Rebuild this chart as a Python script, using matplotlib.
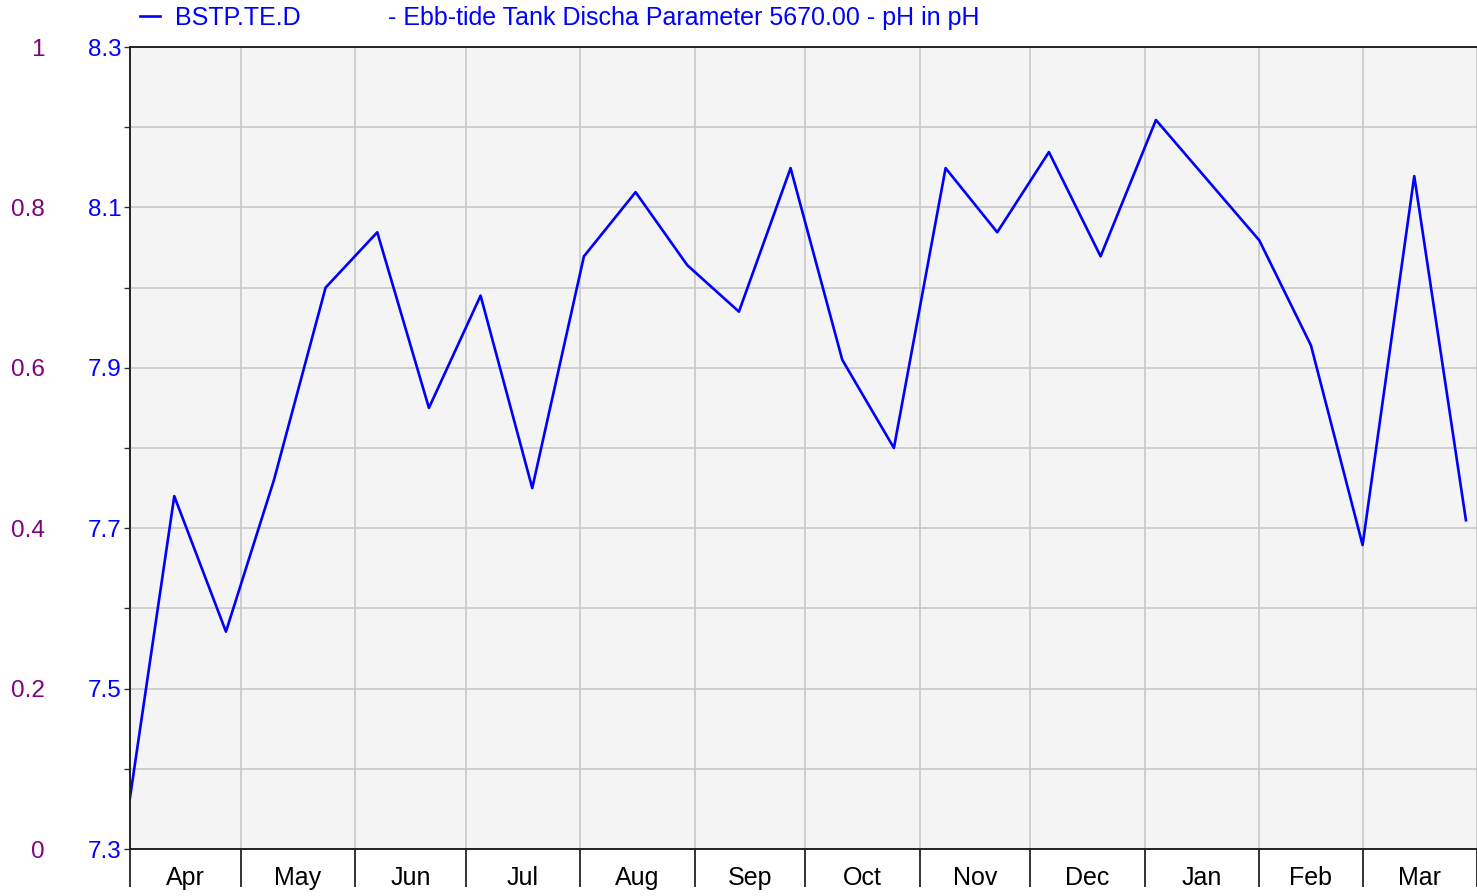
import matplotlib
matplotlib.use("Agg")
import matplotlib.pyplot as plt
import pandas as pd
import numpy as np

# Data
dates = ["2020-04-01", "2020-04-13", "2020-04-27", "2020-05-10", "2020-05-24",
         "2020-06-07", "2020-06-21", "2020-07-05", "2020-07-19", "2020-08-02",
         "2020-08-16", "2020-08-30", "2020-09-13", "2020-09-27", "2020-10-11",
         "2020-10-25", "2020-11-08", "2020-11-22", "2020-12-06", "2020-12-20",
         "2021-01-04", "2021-01-18", "2021-02-01", "2021-02-15", "2021-03-01",
         "2021-03-15", "2021-03-29"]
ph = [7.364, 7.740, 7.571, 7.760, 8.000, 8.069, 7.850, 7.990, 7.750, 8.039,
      8.119, 8.028, 7.970, 8.149, 7.910, 7.800, 8.149, 8.069, 8.169, 8.039,
      8.209, 8.134, 8.059, 7.928, 7.679, 8.139, 7.710]
month_labels = ["Apr", "May", "Jun", "Jul", "Aug", "Sep", "Oct", "Nov", "Dec",
                "Jan", "Feb", "Mar"]
series_name = "BSTP.TE.D"
title_text = "- Ebb-tide Tank Discha Parameter 5670.00 - pH in pH"

plt.rcParams['font.family'] = ['Liberation Sans', 'DejaVu Sans']

x = pd.to_datetime(dates)
month_starts = pd.date_range("2020-04-01", "2021-04-01", freq="MS")
mid_months = month_starts[:-1] + (month_starts[1:] - month_starts[:-1]) / 2

fig = plt.figure(figsize=(14.77, 8.96), dpi=100)
ax = fig.add_axes([130 / 1477, 47 / 896, 1347 / 1477, 802 / 896])
ax.set_facecolor("#f4f4f4")

ax.plot(x, ph, color="#0000ff", lw=1.9, label=series_name)

ax.set_xlim(month_starts[0], month_starts[-1])
ax.set_ylim(7.3, 8.3)

# x axis: long ticks at month boundaries, labels centred in each month
ax.set_xticks(month_starts)
ax.set_xticklabels([])
ax.set_xticks(mid_months, minor=True)
ax.set_xticklabels(month_labels, minor=True)
ax.tick_params(axis="x", which="major", length=27, width=1.4, color="#333333")
ax.tick_params(axis="x", which="minor", length=0, pad=12, labelsize=18)

# y axis (pH)
yt = np.round(np.arange(7.3, 8.31, 0.1), 1)
ax.set_yticks(yt)
ax.set_yticklabels([f"{v:.1f}" if i % 2 == 0 else "" for i, v in enumerate(yt)])
ax.tick_params(axis="y", length=4, width=1, color="#333333", pad=2,
               labelsize=17.5, labelcolor="#0000ff")

ax.grid(True, which="major", color="#c8c8c8", lw=1.2)
for s in ["left", "bottom", "top"]:
    ax.spines[s].set_linewidth(1.4)
    ax.spines[s].set_color("#222222")
ax.spines["right"].set_visible(False)

# second scale (0 - 1) on the far left
sec = ax.secondary_yaxis(-78 / 1347, functions=(lambda v: v - 7.3, lambda v: v + 7.3))
sec.set_yticks([0, 0.2, 0.4, 0.6, 0.8, 1])
sec.set_yticklabels(["0", "0.2", "0.4", "0.6", "0.8", "1"])
sec.tick_params(length=0, pad=5, labelsize=17.5, labelcolor="#800080")
sec.spines["left"].set_visible(False)

# legend / title line on top
leg = fig.legend(loc="center left", bbox_to_anchor=(140 / 1477, 1 - 18 / 896),
                 bbox_transform=fig.transFigure, frameon=False,
                 handlelength=0.8, handletextpad=0.6, borderaxespad=0,
                 borderpad=0, fontsize=18)
for t in leg.get_texts():
    t.set_color("#0000ff")
fig.text(388 / 1477, 1 - 18 / 896, title_text, color="#0000ff", fontsize=18,
         va="center", ha="left")

plt.savefig("out.png", dpi=100)
